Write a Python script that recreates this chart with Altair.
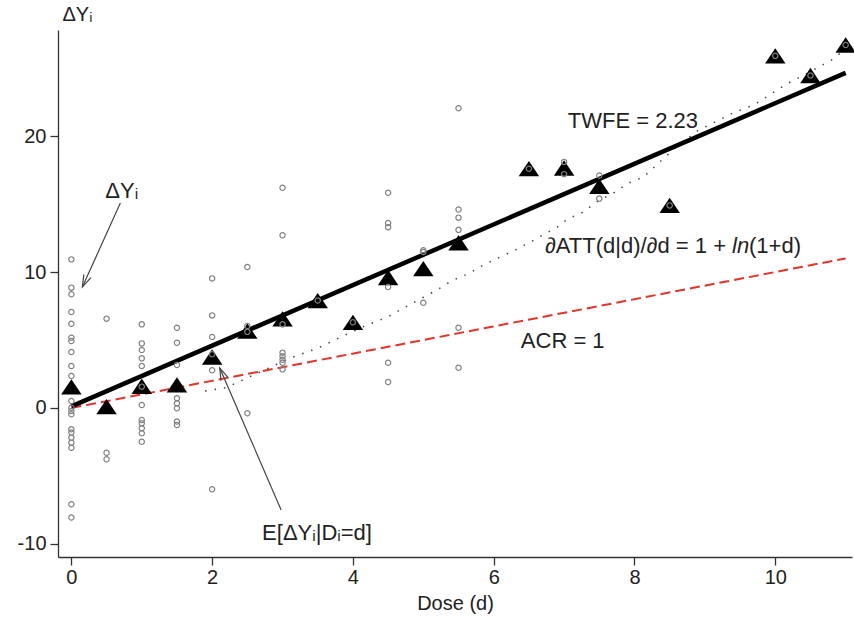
import altair as alt
import pandas as pd

# --- data -------------------------------------------------------------
# individual outcomes (dose, change in outcome)
obs_dose = (
    [0] * 21 + [0.5] * 3 + [1] * 12 + [1.5] * 8 + [2] * 6 + [2.5] * 4 + [3] * 8
    + [3.5] + [4] + [4.5] * 6 + [5] * 3 + [5.5] * 6 + [6.5] + [7] * 2 + [7.5] * 2
    + [8.5] + [10] + [10.5] + [11]
)
obs_dy = [
    10.93, 8.85, 8.36, 7.06, 6.2, 5.17, 4.93, 4.12, 3.09, 2.35, 0.51, 0.02, -0.22,
    -0.46, -1.57, -1.81, -2.18, -2.55, -2.92, -7.08, -8.06,
    6.57, -3.29, -3.77,
    6.15, 4.75, 4.26, 3.65, 3.09, 1.57, 0.22, -0.88, -1.13, -1.49, -1.86, -2.48,
    5.9, 4.8, 3.16, 0.71, 0.34, -0.02, -1.0, -1.25,
    9.53, 6.81, 5.22, 3.95, 2.77, -5.98,
    10.37, 6.03, 5.6, -0.39,
    16.2, 12.7, 6.15, 4.07, 3.8, 3.55, 3.33, 2.84,
    7.9,
    6.3,
    15.83, 13.6, 13.3, 8.9, 3.33, 1.91,
    11.47, 11.6, 7.74,
    22.04, 14.6, 14.0, 13.1, 5.9, 2.96,
    17.6,
    18.1, 17.2,
    17.1, 15.4,
    14.9,
    25.9,
    24.45,
    26.7,
]

# conditional means E[dY | D = d]
mean_dose = [0, 0.5, 1, 1.5, 2, 2.5, 3, 3.5, 4, 4.5, 5, 5.5, 6.5, 7, 7.5, 8.5, 10, 10.5, 11]
mean_dy = [1.55, 0.1, 1.6, 1.7, 3.75, 5.65, 6.55, 7.9, 6.3, 9.6, 10.25, 12.15,
           17.6, 17.65, 16.3, 14.9, 25.9, 24.45, 26.7]

# derivative curve (dotted)
deriv_dose = [1.9, 2.2, 3.1, 3.5, 3.9, 4.2, 4.5, 4.7, 5.2, 5.4, 5.65, 5.85, 6.05,
              6.3, 6.5, 6.9, 7.05, 7.27, 7.5, 7.7, 7.9, 8.13, 8.55, 8.9, 9.4,
              9.7, 10.15, 10.45, 10.8, 11.0]
deriv_val = [1.25, 1.5, 3.65, 4.4, 5.4, 6.1, 6.7, 7.3, 8.7, 9.35, 9.9, 10.5, 11.0,
             11.6, 12.15, 13.3, 13.9, 14.4, 15.3, 15.8, 16.5, 17.0, 19.0, 20.4,
             21.7, 22.3, 23.8, 24.6, 25.6, 26.4]

# fitted lines
twfe_slope, twfe_intercept = 2.23, 0.12
acr_slope, acr_intercept = 1.0, 0.0
line_dose = [0, 11]

x_ticks = [0, 2, 4, 6, 8, 10]
y_ticks = [-10, 0, 10, 20]

FONT = "Liberation Sans"
INK = "#222222"

# --- frames -----------------------------------------------------------
obs = pd.DataFrame({"d": obs_dose, "v": obs_dy})
means = pd.DataFrame({"d": mean_dose, "v": mean_dy})
deriv = pd.DataFrame({"d": deriv_dose, "v": deriv_val})
twfe = pd.DataFrame({"d": line_dose, "v": [twfe_intercept + twfe_slope * d for d in line_dose]})
acr = pd.DataFrame({"d": line_dose, "v": [acr_intercept + acr_slope * d for d in line_dose]})

xs = alt.Scale(domain=[-0.19, 11.09], nice=False, zero=False)
ys = alt.Scale(domain=[-10.96, 27.8], nice=False, zero=False)

x_axis = alt.Axis(values=x_ticks, title="Dose (d)", grid=False, labelFontSize=20,
                  titleFontSize=20, titleFontWeight="normal", tickSize=8,
                  labelPadding=2, titlePadding=6, labelFont=FONT, titleFont=FONT,
                  labelColor=INK, titleColor=INK, domainColor="#333333",
                  tickColor="#333333", domainWidth=1.3, tickWidth=1.3)
y_axis = alt.Axis(values=y_ticks, title="ΔYᵢ", grid=False, labelFontSize=20,
                  titleFontSize=20, titleFontWeight="normal", tickSize=8,
                  labelPadding=4, titleAngle=0, titleAlign="left",
                  titleBaseline="alphabetic", titleX=4, titleY=-10,
                  labelExpr="replace(datum.label, '\u2212', '-')",
                  labelFont=FONT, titleFont=FONT, labelColor=INK, titleColor=INK,
                  domainColor="#333333", tickColor="#333333", domainWidth=1.3,
                  tickWidth=1.3)

X = alt.X("d:Q", scale=xs, axis=x_axis)
Y = alt.Y("v:Q", scale=ys, axis=y_axis)

acr_line = alt.Chart(acr).mark_line(color="#e5332a", strokeWidth=2,
                                    strokeDash=[10, 5]).encode(x=X, y=Y)
deriv_line = alt.Chart(deriv).mark_line(color="#444444", strokeWidth=1.5,
                                        strokeDash=[1.5, 8]).encode(x=X, y=Y)
twfe_line = alt.Chart(twfe).mark_line(color="black", strokeWidth=4.5).encode(x=X, y=Y)

triangles = alt.Chart(means).mark_point(
    shape="M0,-0.75L1,0.75L-1,0.75Z", filled=True, size=420, color="black", opacity=1
).encode(x=X, y=Y)

circles = alt.Chart(obs).mark_point(
    shape="circle", filled=False, size=28, color="#808080", strokeWidth=1.2, opacity=1
).encode(x=X, y=Y)

# annotation arrows: shaft + open arrowhead at the tip
arrow_x0 = [0.696, 2.98]
arrow_y0 = [15.07, -7.5]
arrow_x1 = [0.156, 2.108]
arrow_y1 = [8.9, 2.94]
arrow_angle = [204.6, 336.4]
arrows = pd.DataFrame({"d": arrow_x0, "v": arrow_y0, "d2": arrow_x1, "v2": arrow_y1,
                       "ang": arrow_angle})
shafts = alt.Chart(arrows).mark_rule(color="#444444", strokeWidth=1.2).encode(
    x=X, y=Y, x2="d2:Q", y2="v2:Q")
heads = alt.Chart(arrows).mark_point(
    shape="M-0.45,1.4L0,0L0.45,1.4", filled=False, size=300, color="#444444",
    strokeWidth=1.2, opacity=1
).transform_calculate(hd="datum.d2", hv="datum.v2").encode(
    x=alt.X("hd:Q", scale=xs, axis=x_axis),
    y=alt.Y("hv:Q", scale=ys, axis=y_axis),
    angle=alt.Angle("ang:Q", scale=None))

# text labels
lab_text = ["TWFE = 2.23", "ACR = 1", "ΔYᵢ", "E[ΔYᵢ|Dᵢ=d]"]
lab_d = [7.977, 6.98, 0.483, 3.49]
lab_v = [20.59, 4.41, 15.44, -9.71]
lab_align = ["center", "center", "left", "center"]
labels = pd.DataFrame({"d": lab_d, "v": lab_v, "t": lab_text, "a": lab_align})

def text_layer(df, align, size=22, style="normal", dx=0):
    return alt.Chart(df).mark_text(
        align=align, baseline="alphabetic", font=FONT, fontSize=size,
        fontStyle=style, color=INK, dx=dx
    ).encode(x=X, y=Y, text="t:N")

text_center = text_layer(labels[labels.a == "center"], "center")
text_left = text_layer(labels[labels.a == "left"], "left")

# derivative formula, with the log in italics
formula_d, formula_v = 9.3, 11.4
f_main = pd.DataFrame({"d": [formula_d], "v": [formula_v], "t": ["∂ATT(d|d)/∂d = 1 +"]})
f_ln = pd.DataFrame({"d": [formula_d], "v": [formula_v], "t": ["ln"]})
f_tail = pd.DataFrame({"d": [formula_d], "v": [formula_v], "t": ["(1+d)"]})
formula = (text_layer(f_main, "right") + text_layer(f_ln, "left", style="italic", dx=6)
           + text_layer(f_tail, "left", dx=23))

chart = alt.layer(
    acr_line, deriv_line, twfe_line, triangles, circles, shafts, heads,
    text_center, text_left, formula
).properties(
    width=794, height=527,
    padding={"left": 58, "top": 30, "right": 2, "bottom": 63},
    autosize=alt.AutoSizeParams(type="none"),
    background="white",
).configure_view(stroke=None)

chart.save("out.html", embed_options={"renderer": "svg", "actions": False})
